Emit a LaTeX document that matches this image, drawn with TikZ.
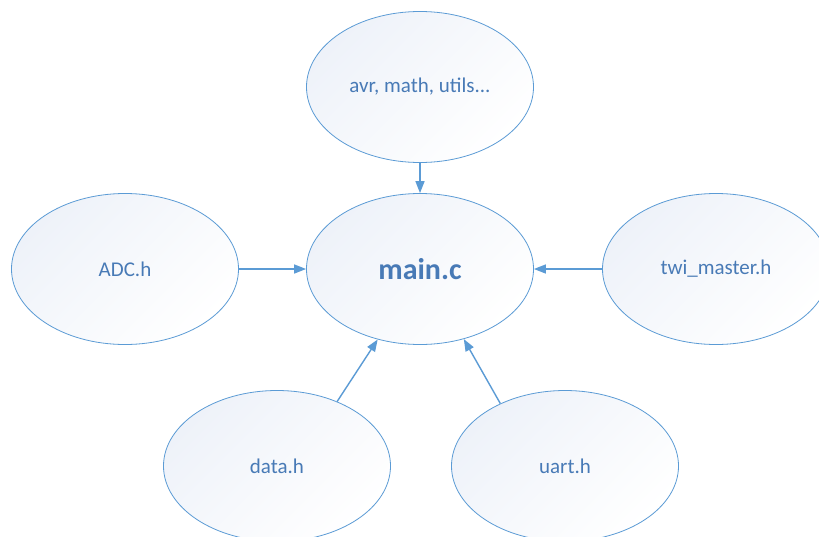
\documentclass[tikz,border=0pt]{standalone}
\usepackage{fontspec}
\setmainfont{Carlito}
\usetikzlibrary{shapes.geometric,arrows.meta}
\definecolor{edgeblue}{RGB}{91,155,213}
\definecolor{txtblue}{RGB}{72,122,182}
\definecolor{fillblue}{RGB}{238,242,249}
\tikzset{
  bubble/.style={ellipse, draw=edgeblue, line width=0.8pt, minimum width=227pt, minimum height=151pt, inner sep=0pt,
    top color=fillblue, bottom color=white, shading angle=45, text=txtblue, font=\fontsize{21}{24}\selectfont},
  link/.style={draw=edgeblue, line width=1.4pt, -{Triangle[length=12pt,width=9pt]}}
}
\begin{document}
\begin{tikzpicture}[x=1pt,y=-1pt]
\useasboundingbox (0,0) rectangle (819,536);
\clip (0,0) rectangle (819,536);
\fill[white] (0,0) rectangle (819,536);
\node[bubble] (top) at (420,87) {avr, math, utils...};
\node[bubble, font=\fontsize{30}{34}\selectfont\bfseries] (main) at (420,269) {main.c};
\node[bubble] (adc) at (125,269) {ADC.h};
\node[bubble] (twi) at (716,269) {twi\_master.h};
\node[bubble] (data) at (277,466) {data.h};
\node[bubble] (uart) at (565,466) {uart.h};
\draw[link] (top) -- (main);
\draw[link] (adc) -- (main);
\draw[link] (twi) -- (main);
\draw[link] (data.47.8) -- (main.239.2);
\draw[link] (uart.136.3) -- (main.302.4);
\end{tikzpicture}
\end{document}
